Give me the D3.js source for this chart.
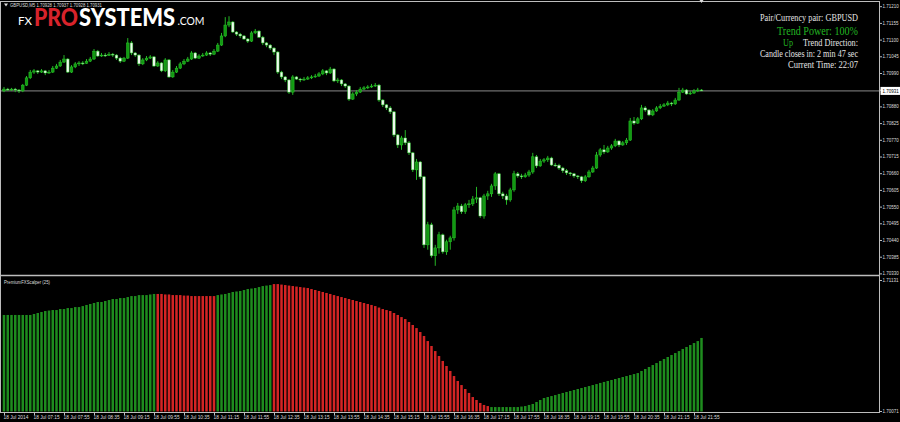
<!DOCTYPE html>
<html><head><meta charset="utf-8">
<script src="https://cdn.jsdelivr.net/npm/d3@7"></script>
<style>html,body{margin:0;padding:0;background:#000;}svg{display:block}</style>
</head><body>
<svg id="chart" width="900" height="422"></svg>
<script>
// ---------------- DATA ----------------
const symbolLine = "GBPUSD,M5  1.70928 1.70937 1.70928 1.70931";
const indicatorName = "PremiumFXScalper (25)";

const opens = [
1.70931,1.70937,1.70934,1.70937,1.70934,1.70931,1.70950,1.70974,1.70993,1.70997,
1.70993,1.70997,1.70990,1.70993,1.71006,1.71013,1.71026,1.71036,1.70993,1.71010,
1.71020,1.71023,1.71022,1.71029,1.71036,1.71062,1.71046,1.71049,1.71048,1.71052,
1.71049,1.71039,1.71029,1.71039,1.71089,1.71056,1.71049,1.71020,1.71033,1.71039,
1.71043,1.71013,1.71023,1.70997,1.71033,1.70977,1.70993,1.71006,1.71020,1.71029,
1.71036,1.71056,1.71039,1.71046,1.71049,1.71056,1.71052,1.71062,1.71082,1.71112,
1.71148,1.71158,1.71125,1.71118,1.71112,1.71102,1.71095,1.71122,1.71128,1.71108,
1.71089,1.71082,1.71072,1.71059,1.70993,1.70977,1.70967,1.70927,1.70977,1.70970,
1.70967,1.70970,1.70974,1.70977,1.70980,1.70987,1.70997,1.70990,1.71003,1.70964,
1.70967,1.70954,1.70947,1.70904,1.70921,1.70927,1.70937,1.70941,1.70944,1.70947,
1.70950,1.70901,1.70885,1.70875,1.70862,1.70786,1.70753,1.70776,1.70760,1.70727,
1.70671,1.70697,1.70648,1.70424,1.70490,1.70388,1.70414,1.70457,1.70401,1.70434,
1.70447,1.70539,1.70552,1.70533,1.70556,1.70559,1.70575,1.70579,1.70519,1.70585,
1.70592,1.70618,1.70658,1.70592,1.70585,1.70572,1.70605,1.70658,1.70651,1.70648,
1.70654,1.70664,1.70714,1.70684,1.70700,1.70704,1.70710,1.70687,1.70686,1.70677,
1.70668,1.70661,1.70658,1.70651,1.70648,1.70635,1.70648,1.70664,1.70677,1.70720,
1.70737,1.70730,1.70743,1.70750,1.70766,1.70753,1.70760,1.70769,1.70832,1.70825,
1.70839,1.70875,1.70868,1.70852,1.70865,1.70875,1.70881,1.70885,1.70891,1.70888,
1.70901,1.70927,1.70934,1.70921,1.70924,1.70931,1.70934];

const highs = [
1.70944,1.70941,1.70941,1.70941,1.70937,1.70954,1.70980,1.71000,1.71003,1.71000,
1.71003,1.71000,1.71000,1.71013,1.71020,1.71033,1.71049,1.71039,1.71016,1.71026,
1.71029,1.71029,1.71036,1.71043,1.71069,1.71066,1.71056,1.71056,1.71059,1.71056,
1.71052,1.71043,1.71043,1.71105,1.71095,1.71059,1.71052,1.71039,1.71046,1.71049,
1.71046,1.71029,1.71026,1.71039,1.71036,1.71000,1.71013,1.71026,1.71036,1.71043,
1.71062,1.71059,1.71052,1.71056,1.71062,1.71059,1.71069,1.71089,1.71122,1.71174,
1.71177,1.71161,1.71128,1.71122,1.71115,1.71105,1.71128,1.71135,1.71131,1.71112,
1.71092,1.71085,1.71075,1.71062,1.70997,1.70980,1.70970,1.70983,1.70980,1.70974,
1.70977,1.70980,1.70983,1.70987,1.70993,1.71003,1.71000,1.71010,1.71006,1.70974,
1.70970,1.70957,1.70950,1.70927,1.70934,1.70944,1.70947,1.70950,1.70954,1.70957,
1.70954,1.70904,1.70888,1.70881,1.70865,1.70789,1.70783,1.70802,1.70766,1.70730,
1.70707,1.70700,1.70651,1.70500,1.70497,1.70424,1.70467,1.70461,1.70441,1.70454,
1.70549,1.70562,1.70559,1.70562,1.70572,1.70585,1.70615,1.70582,1.70592,1.70602,
1.70625,1.70664,1.70661,1.70599,1.70592,1.70612,1.70668,1.70664,1.70658,1.70661,
1.70671,1.70727,1.70720,1.70707,1.70710,1.70717,1.70714,1.70694,1.70691,1.70681,
1.70674,1.70664,1.70661,1.70654,1.70651,1.70654,1.70671,1.70684,1.70730,1.70743,
1.70753,1.70750,1.70756,1.70773,1.70769,1.70766,1.70776,1.70842,1.70845,1.70845,
1.70885,1.70881,1.70871,1.70871,1.70881,1.70888,1.70891,1.70898,1.70895,1.70908,
1.70941,1.70941,1.70937,1.70931,1.70937,1.70941,1.70937];

const lows = [
1.70927,1.70931,1.70931,1.70927,1.70924,1.70927,1.70947,1.70970,1.70987,1.70987,
1.70990,1.70983,1.70987,1.70990,1.71003,1.71010,1.71023,1.70990,1.70990,1.71006,
1.71013,1.71016,1.71020,1.71026,1.71033,1.71043,1.71043,1.71043,1.71046,1.71043,
1.71033,1.71023,1.71026,1.71036,1.71049,1.71043,1.71013,1.71016,1.71029,1.71036,
1.71010,1.71010,1.70993,1.70993,1.70974,1.70974,1.70990,1.71003,1.71016,1.71026,
1.71033,1.71036,1.71036,1.71043,1.71046,1.71046,1.71049,1.71059,1.71079,1.71108,
1.71141,1.71122,1.71112,1.71105,1.71099,1.71089,1.71092,1.71118,1.71105,1.71082,
1.71075,1.71066,1.71049,1.70987,1.70970,1.70960,1.70921,1.70918,1.70967,1.70960,
1.70964,1.70967,1.70970,1.70974,1.70977,1.70983,1.70983,1.70987,1.70960,1.70957,
1.70947,1.70941,1.70898,1.70901,1.70914,1.70924,1.70934,1.70937,1.70941,1.70944,
1.70895,1.70878,1.70868,1.70855,1.70779,1.70743,1.70737,1.70753,1.70720,1.70664,
1.70638,1.70641,1.70414,1.70408,1.70382,1.70355,1.70395,1.70395,1.70391,1.70408,
1.70438,1.70526,1.70526,1.70526,1.70546,1.70552,1.70562,1.70513,1.70510,1.70572,
1.70582,1.70605,1.70585,1.70575,1.70556,1.70566,1.70599,1.70645,1.70641,1.70645,
1.70648,1.70658,1.70677,1.70681,1.70694,1.70697,1.70684,1.70681,1.70671,1.70661,
1.70654,1.70651,1.70645,1.70641,1.70628,1.70631,1.70645,1.70661,1.70674,1.70714,
1.70723,1.70727,1.70737,1.70746,1.70746,1.70750,1.70753,1.70766,1.70819,1.70822,
1.70835,1.70862,1.70848,1.70848,1.70862,1.70871,1.70878,1.70881,1.70881,1.70885,
1.70898,1.70924,1.70918,1.70918,1.70921,1.70927,1.70931];

const closes = [
1.70937,1.70934,1.70937,1.70934,1.70931,1.70950,1.70974,1.70993,1.70997,1.70993,
1.70997,1.70990,1.70993,1.71006,1.71013,1.71026,1.71036,1.70993,1.71010,1.71020,
1.71023,1.71022,1.71029,1.71036,1.71062,1.71046,1.71049,1.71048,1.71052,1.71049,
1.71039,1.71029,1.71039,1.71089,1.71056,1.71049,1.71020,1.71033,1.71039,1.71043,
1.71013,1.71023,1.70997,1.71033,1.70977,1.70993,1.71006,1.71020,1.71029,1.71036,
1.71056,1.71039,1.71046,1.71049,1.71056,1.71052,1.71062,1.71082,1.71112,1.71148,
1.71158,1.71125,1.71118,1.71112,1.71102,1.71095,1.71122,1.71128,1.71108,1.71089,
1.71082,1.71072,1.71059,1.70993,1.70977,1.70967,1.70927,1.70977,1.70970,1.70967,
1.70970,1.70974,1.70977,1.70980,1.70987,1.70997,1.70990,1.71003,1.70964,1.70967,
1.70954,1.70947,1.70904,1.70921,1.70927,1.70937,1.70941,1.70944,1.70947,1.70950,
1.70901,1.70885,1.70875,1.70862,1.70786,1.70753,1.70776,1.70760,1.70727,1.70671,
1.70697,1.70648,1.70424,1.70490,1.70388,1.70414,1.70457,1.70401,1.70434,1.70447,
1.70539,1.70552,1.70533,1.70556,1.70559,1.70575,1.70579,1.70519,1.70585,1.70592,
1.70618,1.70658,1.70592,1.70585,1.70572,1.70605,1.70658,1.70651,1.70648,1.70654,
1.70664,1.70714,1.70684,1.70700,1.70704,1.70710,1.70687,1.70686,1.70677,1.70668,
1.70661,1.70658,1.70651,1.70648,1.70635,1.70648,1.70664,1.70677,1.70720,1.70737,
1.70730,1.70743,1.70750,1.70766,1.70753,1.70760,1.70769,1.70832,1.70825,1.70839,
1.70875,1.70868,1.70852,1.70865,1.70875,1.70881,1.70885,1.70891,1.70888,1.70901,
1.70927,1.70934,1.70921,1.70924,1.70931,1.70934,1.70931];

const indicatorValues = [
1.70848,1.70848,1.70848,1.70848,1.70848,1.70848,1.70848,1.70848,1.70856,1.70864,
1.70872,1.70880,1.70884,1.70888,1.70888,1.70896,1.70896,1.70904,1.70904,1.70912,
1.70912,1.70920,1.70929,1.70937,1.70945,1.70953,1.70953,1.70961,1.70969,1.70977,
1.70977,1.70985,1.70985,1.70993,1.71001,1.71001,1.71009,1.71009,1.71009,1.71014,
1.71018,1.71018,1.71018,1.71014,1.71014,1.71009,1.71009,1.71009,1.71005,1.71005,
1.71001,1.71001,1.71001,1.71001,1.71001,1.71001,1.71001,1.71009,1.71014,1.71018,
1.71026,1.71034,1.71038,1.71042,1.71050,1.71058,1.71062,1.71066,1.71074,1.71082,
1.71086,1.71090,1.71098,1.71098,1.71094,1.71090,1.71086,1.71082,1.71078,1.71074,
1.71070,1.71066,1.71058,1.71050,1.71042,1.71034,1.71026,1.71018,1.71009,1.71001,
1.70993,1.70985,1.70977,1.70969,1.70961,1.70953,1.70945,1.70937,1.70929,1.70920,
1.70908,1.70896,1.70888,1.70880,1.70864,1.70848,1.70831,1.70815,1.70791,1.70767,
1.70742,1.70710,1.70678,1.70637,1.70597,1.70556,1.70516,1.70476,1.70435,1.70395,
1.70354,1.70314,1.70281,1.70249,1.70217,1.70184,1.70160,1.70136,1.70120,1.70111,
1.70103,1.70103,1.70103,1.70103,1.70103,1.70103,1.70103,1.70103,1.70107,1.70111,
1.70120,1.70128,1.70144,1.70160,1.70176,1.70184,1.70192,1.70200,1.70209,1.70217,
1.70225,1.70233,1.70241,1.70249,1.70257,1.70265,1.70273,1.70281,1.70289,1.70298,
1.70306,1.70314,1.70322,1.70330,1.70338,1.70346,1.70354,1.70362,1.70370,1.70378,
1.70395,1.70411,1.70427,1.70443,1.70459,1.70476,1.70492,1.70508,1.70524,1.70540,
1.70556,1.70573,1.70589,1.70605,1.70621,1.70637,1.70662];

// bar index where the indicator colour changes, and the new direction
const trendChanges = [[0,"up"],[41,"down"],[57,"up"],[72,"down"],[130,"up"]];

const priceTicks = [1.70330,1.70385,1.70440,1.70495,1.70550,1.70605,1.70660,1.70715,
  1.70770,1.70825,1.70880,1.70935,1.70990,1.71045,1.71100,1.71155,1.71210];
const currentPrice = 1.70931;
const indicatorTicks = [1.70071, 1.71131];

const timeLabels = ["18 Jul 2014","18 Jul 07:15","18 Jul 07:55","18 Jul 08:35","18 Jul 09:15",
  "18 Jul 09:55","18 Jul 10:35","18 Jul 11:15","18 Jul 11:55","18 Jul 12:35","18 Jul 13:15",
  "18 Jul 13:55","18 Jul 14:35","18 Jul 15:15","18 Jul 15:55","18 Jul 16:35","18 Jul 17:15",
  "18 Jul 17:55","18 Jul 18:35","18 Jul 19:15","18 Jul 19:55","18 Jul 20:35","18 Jul 21:15","18 Jul 21:55"];
const timeLabelBars = [0,8,16,24,32,40,48,56,64,72,80,88,96,104,112,120,128,136,144,152,160,168,176,184];

const infoPair = "Pair/Currency pair: GBPUSD";
const infoPower = "Trend Power: 100%";
const infoDirValue = "Up";
const infoDirLabel = "Trend Direction:";
const infoCandle = "Candle closes in: 2 min 47 sec";
const infoTime = "Current Time: 22:07";

// ---------------- DRAW ----------------
const svg = d3.select("#chart");
svg.append("rect").attr("width",900).attr("height",422).attr("fill","#000");

const n = closes.length;
const x = d3.scaleLinear().domain([0, n - 1]).range([4, 701.5]);
const y = d3.scaleLinear().domain([1.70385, 1.71210]).range([256.7, 6.2]);
const yi = d3.scaleLinear().domain([1.70071, 1.71131]).range([411, 280]);

const frameColor = "#bdbdbd";
const frame = svg.append("g").attr("stroke", frameColor).attr("fill","none");
frame.append("line").attr("x1",0).attr("x2",880).attr("y1",1.5).attr("y2",1.5);
frame.append("line").attr("x1",0.5).attr("x2",0.5).attr("y1",1.5).attr("y2",412.5);
frame.append("line").attr("x1",879.5).attr("x2",879.5).attr("y1",1.5).attr("y2",412.5);
frame.append("line").attr("x1",0).attr("x2",880).attr("y1",275.5).attr("y2",275.5).attr("stroke-width",1.6);
frame.append("line").attr("x1",0).attr("x2",880).attr("y1",412.5).attr("y2",412.5);

// current price line
svg.append("line").attr("x1",1).attr("x2",879).attr("y1",y(currentPrice)).attr("y2",y(currentPrice))
  .attr("stroke","#9a9a9a").attr("stroke-width",0.9);

// candles
const candles = svg.append("g");
const idx = d3.range(n);
candles.selectAll("line.wick").data(idx).join("line").attr("class","wick")
  .attr("x1", i => x(i)).attr("x2", i => x(i))
  .attr("y1", i => y(highs[i])).attr("y2", i => y(lows[i]))
  .attr("stroke","#25b525").attr("stroke-width",1);
candles.selectAll("rect").data(idx).join("rect")
  .attr("x", i => x(i) - 1.35).attr("width", 2.7)
  .attr("y", i => Math.min(y(opens[i]), y(closes[i])))
  .attr("height", i => Math.max(0.9, Math.abs(y(opens[i]) - y(closes[i]))))
  .attr("fill", i => closes[i] >= opens[i] ? "#129a12" : "#eefaee")
  .attr("stroke", "#2ccc2c").attr("stroke-width", 0.45);

// indicator histogram
function trendAt(i){ let d="up"; for (const [s,t] of trendChanges) if (i>=s) d=t; return d; }
svg.append("g").selectAll("rect").data(idx).join("rect")
  .attr("x", i => x(i) - 1.25).attr("width", 2.5)
  .attr("y", i => yi(indicatorValues[i]))
  .attr("height", i => 411.5 - yi(indicatorValues[i]))
  .attr("fill", i => trendAt(i) === "up" ? "#1e8c1e" : "#d42424");

// price axis
const labelFont = "Liberation Sans, Arial, sans-serif";
svg.append("g").attr("transform","translate(879.5,0)")
  .call(d3.axisRight(y).tickValues(priceTicks).tickSize(2.5).tickFormat(d3.format(".5f")))
  .call(g => g.select(".domain").remove())
  .call(g => g.selectAll("line").attr("stroke",frameColor))
  .call(g => g.selectAll("text").attr("fill","#dddddd").attr("x",3))
  .attr("font-size",4.5).attr("font-family",labelFont);

// current price box
svg.append("rect").attr("x",880.5).attr("y",y(currentPrice)-4).attr("width",19.5).attr("height",8).attr("fill","#ffffff");
svg.append("text").attr("x",882.5).attr("y",y(currentPrice)+1.7).attr("font-size",4.5).attr("font-family",labelFont)
  .attr("fill","#000").text(d3.format(".5f")(currentPrice));

// indicator axis
svg.append("g").attr("transform","translate(879.5,0)")
  .call(d3.axisRight(yi).tickValues(indicatorTicks).tickSize(2.5).tickFormat(d3.format(".5f")))
  .call(g => g.select(".domain").remove())
  .call(g => g.selectAll("line").attr("stroke",frameColor))
  .call(g => g.selectAll("text").attr("fill","#dddddd").attr("x",3))
  .attr("font-size",4.5).attr("font-family",labelFont);

// time axis
svg.append("g").attr("transform","translate(0,412.5)")
  .call(d3.axisBottom(x).tickValues(timeLabelBars).tickSize(2.5).tickFormat((d,i) => timeLabels[i]))
  .call(g => g.select(".domain").remove())
  .call(g => g.selectAll("line").attr("stroke",frameColor))
  .call(g => g.selectAll("text").attr("fill","#dddddd").attr("text-anchor","start").attr("x",-1).attr("y",3.5))
  .attr("font-size",4.8).attr("font-family",labelFont);

// header
svg.append("path").attr("d","M4,3.5 L8,3.5 L6,6.5 Z").attr("fill","#dddddd");
svg.append("text").attr("x",10).attr("y",7).attr("font-size",5).attr("font-family",labelFont)
  .attr("fill","#dddddd").attr("textLength",92).attr("lengthAdjust","spacingAndGlyphs").text(symbolLine);
svg.append("path").attr("d",`M${x(n-1)-2},0 L${x(n-1)+2},0 L${x(n-1)},3 Z`).attr("fill","#dddddd");

// logo
const logoFont = "Lato, 'Open Sans', sans-serif";
svg.append("text").attr("x",18).attr("y",25).attr("font-family",logoFont).attr("font-size",11.5)
  .attr("fill","#ffffff").attr("textLength",14).attr("lengthAdjust","spacingAndGlyphs").text("FX");
svg.append("text").attr("x",34).attr("y",26).attr("font-family",logoFont).attr("font-weight",900).attr("font-size",24)
  .attr("fill","#d8232b").attr("textLength",44).attr("lengthAdjust","spacingAndGlyphs").text("PRO");
svg.append("text").attr("x",79).attr("y",26).attr("font-family",logoFont).attr("font-weight",900).attr("font-size",24)
  .attr("fill","#ffffff").attr("textLength",96).attr("lengthAdjust","spacingAndGlyphs").text("SYSTEMS");
svg.append("text").attr("x",177.5).attr("y",25).attr("font-family",logoFont).attr("font-size",11.5)
  .attr("fill","#ffffff").attr("textLength",27).attr("lengthAdjust","spacingAndGlyphs").text(".COM");

// info panel
const serif = "Liberation Serif, 'Times New Roman', serif";
function info(txt, x0, len, yb, size, color){
  svg.append("text").attr("x",x0).attr("y",yb).attr("font-family",serif).attr("font-size",size)
    .attr("fill",color).attr("textLength",len).attr("lengthAdjust","spacingAndGlyphs").text(txt);
}
info(infoPair, 760, 98, 20.5, 10, "#e4e4e4");
info(infoPower, 777, 81, 34.5, 12, "#22b522");
info(infoDirValue, 783, 10, 45.5, 10, "#22b522");
info(infoDirLabel, 803, 55, 45.5, 10, "#e4e4e4");
info(infoCandle, 760, 98, 56.5, 10, "#e4e4e4");
info(infoTime, 788, 70, 67.5, 10, "#e4e4e4");

// indicator name
svg.append("text").attr("x",4).attr("y",284).attr("font-size",4.8).attr("font-family",labelFont)
  .attr("fill","#dddddd").attr("textLength",46).attr("lengthAdjust","spacingAndGlyphs").text(indicatorName);
</script>
</body></html>
